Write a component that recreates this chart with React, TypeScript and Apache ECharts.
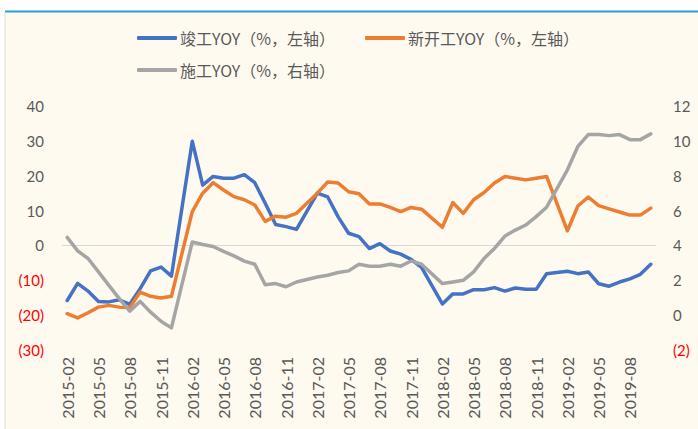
import React, { useEffect, useRef } from "react";
import * as echarts from "echarts";

const months: string[] = [];
for (let y = 2015; y <= 2019; y++) {
  for (let m = 1; m <= 12; m++) {
    if (y === 2015 && m < 2) continue;
    if (y === 2019 && m > 10) continue;
    months.push(`${y}-${m < 10 ? "0" + m : m}`);
  }
}
const categories = months;

const completionYoY: (number | null)[] = [
  -15.8, -10.9, -13.1, -16.1, -16.2, -15.6, -16.9, -12.4, -7.3, -6.2, -8.8, null,
  29.9, 17.3, 19.8, 19.3, 19.3, 20.3, 18.0, 12.1, 6.0, 5.4, 4.6, null,
  15.0, 13.9, 8.2, 3.5, 2.5, -0.9, 0.5, -1.6, -2.5, -4.0, -6.3, null,
  -16.8, -13.9, -13.9, -12.7, -12.7, -12.1, -13.1, -12.2, -12.6, -12.6, -8.1, null,
  -7.4, -8.1, -7.6, -11.0, -11.7, -10.5, -9.6, -8.3, -5.4,
];

const newStartYoY: (number | null)[] = [
  -19.6, -20.8, -19.3, -17.7, -17.2, -17.7, -17.9, -13.4, -14.6, -15.1, -14.6, null,
  9.7, 15.0, 18.0, 15.9, 14.0, 13.1, 11.6, 6.9, 8.4, 8.1, 9.2, null,
  15.0, 18.2, 17.9, 15.4, 14.8, 11.9, 11.9, 10.9, 9.7, 10.9, 10.4, null,
  5.2, 12.3, 9.2, 13.1, 15.2, 17.9, 19.8, 19.3, 18.8, 19.3, 19.8, null,
  4.2, 11.3, 13.9, 11.4, 10.5, 9.6, 8.7, 8.7, 10.7,
];

const constructionYoY: (number | null)[] = [
  4.46, 3.69, 3.25, 2.48, 1.71, 0.95, 0.23, 0.79, 0.17, -0.35, -0.73, null,
  4.2, 4.05, 3.94, 3.66, 3.4, 3.1, 2.92, 1.74, 1.81, 1.63, 1.9, null,
  2.19, 2.29, 2.45, 2.54, 2.92, 2.81, 2.81, 2.92, 2.81, 3.11, 2.92, null,
  1.81, 1.9, 2.0, 2.48, 3.25, 3.83, 4.54, 4.88, 5.17, 5.65, 6.19, null,
  8.34, 9.68, 10.36, 10.36, 10.3, 10.36, 10.07, 10.07, 10.4,
];

const seriesNames = ["竣工YOY（%，左轴）", "新开工YOY（%，左轴）", "施工YOY（%，右轴）"];
const seriesColors = ["#4472C4", "#ED7D31", "#A5A5A5"];

const numFont = "Lato, 'Open Sans', sans-serif";
const cjkFont = "'Noto Sans CJK SC', sans-serif";

export default function App() {
  const ref = useRef<HTMLDivElement>(null);
  useEffect(() => {
    document.body.style.margin = "0";
    if (!ref.current) return;
    const chart = echarts.init(ref.current, undefined, { renderer: "svg" });
    const fmt = (v: number) => (v < 0 ? `(${-v})` : `${v}`);
    const col = (v: any) => (Number(v) < 0 ? "#FF0000" : "#595959");
    const legendCommon = {
      icon: "roundRect",
      itemWidth: 40,
      itemHeight: 4,
      textStyle: { fontSize: 16, color: "#595959", fontFamily: cjkFont, padding: [0, 0, 0, -2] },
    };
    chart.setOption({
      animation: false,
      backgroundColor: "#FFFFFF",
      graphic: [
        { type: "rect", z: -10, shape: { x: 5, y: 11, width: 693, height: 418 }, style: { fill: "#FFFAF0" } },
        { type: "line", z: -5, shape: { x1: 5, y1: 11.5, x2: 698, y2: 11.5 }, style: { stroke: "#2C9AD6", lineWidth: 2 } },
        { type: "line", z: -5, shape: { x1: 5, y1: 12, x2: 5, y2: 429 }, style: { stroke: "#D9D9D9", lineWidth: 1 } },
      ],
      legend: [
        { ...legendCommon, data: [seriesNames[0]], left: 132, top: 25 },
        { ...legendCommon, data: [seriesNames[1]], left: 360, top: 25 },
        { ...legendCommon, data: [seriesNames[2]], left: 132, top: 57 },
      ],
      grid: { left: 62, right: 42, top: 106, bottom: 79 },
      xAxis: {
        type: "category",
        data: categories,
        boundaryGap: true,
        axisLine: { show: false },
        axisTick: { show: false },
        splitLine: { show: false },
        axisLabel: {
          interval: 2,
          rotate: 90,
          margin: 7,
          color: "#595959",
          fontSize: 16,
          fontFamily: numFont,
        },
      },
      yAxis: [
        {
          type: "value",
          min: -30,
          max: 40,
          interval: 10,
          axisLine: { show: false },
          axisTick: { show: false },
          splitLine: { show: false },
          axisLabel: { formatter: fmt, color: col, fontSize: 15, margin: 18, fontFamily: numFont },
        },
        {
          type: "value",
          min: -2,
          max: 12,
          interval: 2,
          axisLine: { show: false },
          axisTick: { show: false },
          splitLine: { show: false },
          axisLabel: { formatter: fmt, color: col, fontSize: 15, margin: 17, fontFamily: numFont },
        },
      ],
      series: [
        {
          name: seriesNames[0],
          type: "line",
          data: completionYoY,
          yAxisIndex: 0,
          showSymbol: false,
          connectNulls: true,
          color: seriesColors[0],
          lineStyle: { width: 3.5, color: seriesColors[0], cap: "round", join: "round" },
          markLine: {
            silent: true,
            symbol: "none",
            label: { show: false },
            lineStyle: { color: "#D9D9D9", width: 1, type: "solid" },
            data: [{ yAxis: 0 }],
            z: 1,
          },
        },
        {
          name: seriesNames[1],
          type: "line",
          data: newStartYoY,
          yAxisIndex: 0,
          showSymbol: false,
          connectNulls: true,
          color: seriesColors[1],
          lineStyle: { width: 3.5, color: seriesColors[1], cap: "round", join: "round" },
        },
        {
          name: seriesNames[2],
          type: "line",
          data: constructionYoY,
          yAxisIndex: 1,
          showSymbol: false,
          connectNulls: true,
          color: seriesColors[2],
          lineStyle: { width: 3.5, color: seriesColors[2], cap: "round", join: "round" },
        },
      ],
    });
    return () => chart.dispose();
  }, []);
  return <div ref={ref} style={{ width: 698, height: 429 }} />;
}
